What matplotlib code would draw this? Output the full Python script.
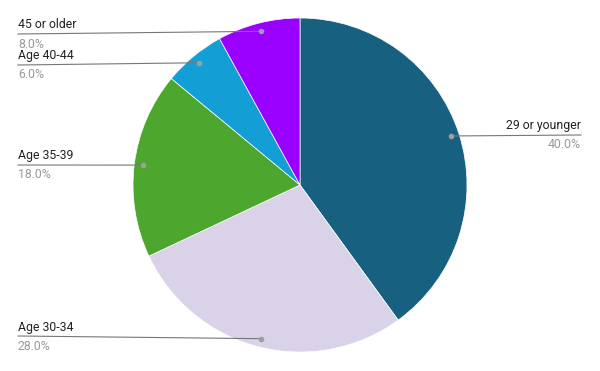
import numpy as np
import matplotlib.pyplot as plt

labels = ['29 or younger', 'Age 30-34', 'Age 35-39', 'Age 40-44', '45 or older']
shares = [40.0, 28.0, 18.0, 6.0, 8.0]
colors = ['#17607f', '#d9d2e9', '#4da62d', '#139fd6', '#9900ff']

# label line anchor in pixels (x, y) and side
label_px = [(581, 135), (18, 336), (18, 165), (18, 65), (18, 34)]
label_side = ['right', 'left', 'left', 'left', 'left']

W, H = 600, 371
cx, cy, R = 300, 185, 167

def to_data(px, py):
    return (px - cx) / R, (cy - py) / R

fig = plt.figure(figsize=(W / 100, H / 100), dpi=100)
ax = fig.add_axes([0, 0, 1, 1])

wedges, _ = ax.pie(shares, colors=colors, startangle=90, counterclock=False,
                   radius=1, center=(0, 0), frame=True,
                   wedgeprops=dict(linewidth=0.5, edgecolor='white'))
ax.set_xlim(-cx / R, (W - cx) / R)
ax.set_ylim(-(H - cy) / R, cy / R)
ax.axis('off')

font = 'Roboto'
for w, lab, val, (px, py), side in zip(wedges, labels, shares, label_px, label_side):
    mid = np.deg2rad((w.theta1 + w.theta2) / 2)
    dx, dy = 0.95 * np.cos(mid), 0.95 * np.sin(mid)
    lx, ly = to_data(px, py)
    ax.plot([lx, dx], [ly, dy], color='#777777', lw=0.8, zorder=3)
    ax.plot(dx, dy, 'o', color='#9e9e9e', ms=4, mec='none', zorder=4)
    ax.text(lx, ly + 2.5 / R, lab, ha=side, va='bottom', fontsize=8.8,
            family=font, color='#222222')
    ax.text(lx, ly - 3.5 / R, f'{val:.1f}%', ha=side, va='top', fontsize=8.8,
            family=font, color='#999999')

fig.savefig('out.png', dpi=100)
